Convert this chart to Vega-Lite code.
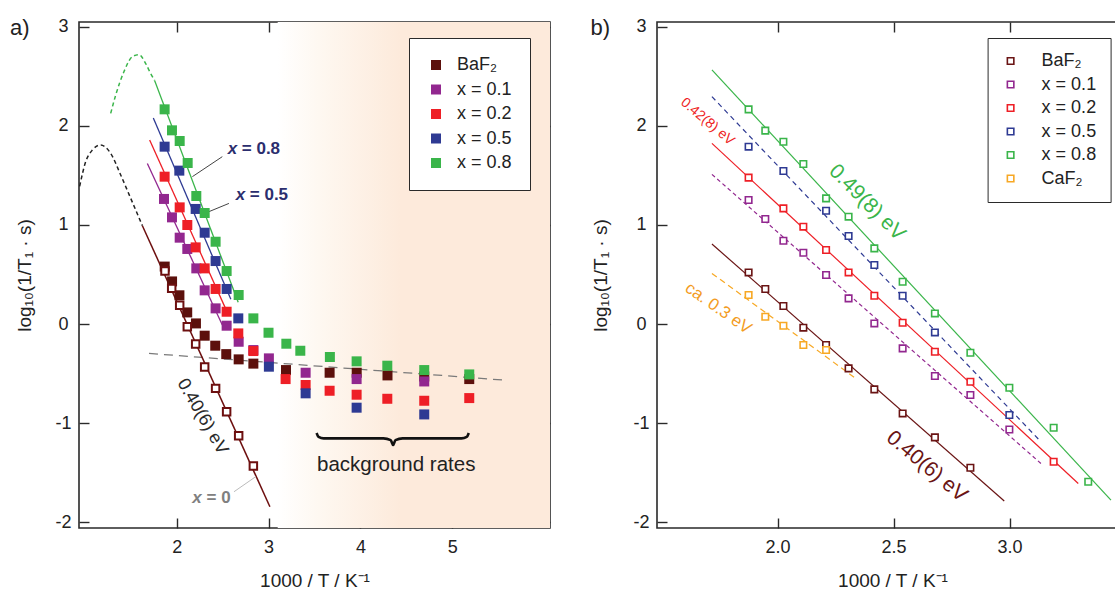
{
 "$schema": "https://vega.github.io/schema/vega-lite/v6.json",
 "padding": {"left": 9, "top": 15, "right": 0, "bottom": 0},
 "spacing": 37,
 "config": {
  "font": "Liberation Sans",
  "view": {"stroke": "#2a2a2a", "strokeWidth": 1.6},
  "axis": {"domain": false, "grid": false, "tickColor": "#2a2a2a", "tickSize": -10, "tickWidth": 1.4, "labelFontSize": 18, "labelColor": "#222222", "titleFontSize": 19, "titleFontWeight": "normal", "titleColor": "#222222"},
  "legend": {"strokeColor": "#2a2a2a", "fillColor": "#ffffff", "labelFontSize": 18, "labelColor": "#222222", "symbolType": "square"}
 },
 "resolve": {"scale": {"x": "independent", "y": "independent", "color": "independent", "stroke": "independent"}, "legend": {"color": "independent"}},
 "datasets": {
  "lp": [
   {"s": "BaF₂", "x": 1.87, "y": 0.58}, {"s": "BaF₂", "x": 1.95, "y": 0.43}, {"s": "BaF₂", "x": 2.03, "y": 0.29}, {"s": "BaF₂", "x": 2.115, "y": 0.117}, {"s": "BaF₂", "x": 2.21, "y": 0.006}, {"s": "BaF₂", "x": 2.305, "y": -0.118}, {"s": "BaF₂", "x": 2.42, "y": -0.219}, {"s": "BaF₂", "x": 2.54, "y": -0.304}, {"s": "BaF₂", "x": 2.675, "y": -0.357}, {"s": "BaF₂", "x": 2.835, "y": -0.4}, {"s": "BaF₂", "x": 3.19, "y": -0.465}, {"s": "BaF₂", "x": 3.665, "y": -0.492}, {"s": "BaF₂", "x": 3.96, "y": -0.492}, {"s": "BaF₂", "x": 4.295, "y": -0.519}, {"s": "BaF₂", "x": 4.695, "y": -0.53}, {"s": "BaF₂", "x": 5.185, "y": -0.556},
   {"s": "x = 0.1", "x": 1.862, "y": 1.263}, {"s": "x = 0.1", "x": 1.949, "y": 1.077}, {"s": "x = 0.1", "x": 2.033, "y": 0.872}, {"s": "x = 0.1", "x": 2.116, "y": 0.758}, {"s": "x = 0.1", "x": 2.214, "y": 0.562}, {"s": "x = 0.1", "x": 2.305, "y": 0.34}, {"s": "x = 0.1", "x": 2.424, "y": 0.158}, {"s": "x = 0.1", "x": 2.544, "y": -0.017}, {"s": "x = 0.1", "x": 2.675, "y": -0.179}, {"s": "x = 0.1", "x": 2.835, "y": -0.263}, {"s": "x = 0.1", "x": 3.004, "y": -0.347}, {"s": "x = 0.1", "x": 3.404, "y": -0.492}, {"s": "x = 0.1", "x": 3.959, "y": -0.556}, {"s": "x = 0.1", "x": 4.695, "y": -0.58},
   {"s": "x = 0.2", "x": 1.869, "y": 1.488}, {"s": "x = 0.2", "x": 2.033, "y": 1.178}, {"s": "x = 0.2", "x": 2.116, "y": 1.0}, {"s": "x = 0.2", "x": 2.207, "y": 0.774}, {"s": "x = 0.2", "x": 2.305, "y": 0.562}, {"s": "x = 0.2", "x": 2.424, "y": 0.354}, {"s": "x = 0.2", "x": 2.544, "y": 0.124}, {"s": "x = 0.2", "x": 2.671, "y": -0.095}, {"s": "x = 0.2", "x": 2.835, "y": -0.273}, {"s": "x = 0.2", "x": 3.186, "y": -0.556}, {"s": "x = 0.2", "x": 3.404, "y": -0.616}, {"s": "x = 0.2", "x": 3.665, "y": -0.674}, {"s": "x = 0.2", "x": 3.959, "y": -0.714}, {"s": "x = 0.2", "x": 4.293, "y": -0.755}, {"s": "x = 0.2", "x": 4.695, "y": -0.775}, {"s": "x = 0.2", "x": 5.185, "y": -0.748},
   {"s": "x = 0.5", "x": 1.869, "y": 1.791}, {"s": "x = 0.5", "x": 2.029, "y": 1.549}, {"s": "x = 0.5", "x": 2.207, "y": 1.162}, {"s": "x = 0.5", "x": 2.305, "y": 0.922}, {"s": "x = 0.5", "x": 2.424, "y": 0.636}, {"s": "x = 0.5", "x": 2.544, "y": 0.354}, {"s": "x = 0.5", "x": 2.671, "y": 0.057}, {"s": "x = 0.5", "x": 3.004, "y": -0.431}, {"s": "x = 0.5", "x": 3.404, "y": -0.7}, {"s": "x = 0.5", "x": 3.959, "y": -0.845}, {"s": "x = 0.5", "x": 4.695, "y": -0.913},
   {"s": "x = 0.8", "x": 1.869, "y": 2.168}, {"s": "x = 0.8", "x": 1.949, "y": 1.956}, {"s": "x = 0.8", "x": 2.033, "y": 1.848}, {"s": "x = 0.8", "x": 2.12, "y": 1.626}, {"s": "x = 0.8", "x": 2.214, "y": 1.293}, {"s": "x = 0.8", "x": 2.305, "y": 1.121}, {"s": "x = 0.8", "x": 2.424, "y": 0.831}, {"s": "x = 0.8", "x": 2.544, "y": 0.535}, {"s": "x = 0.8", "x": 2.675, "y": 0.293}, {"s": "x = 0.8", "x": 2.835, "y": 0.057}, {"s": "x = 0.8", "x": 3.0, "y": -0.088}, {"s": "x = 0.8", "x": 3.194, "y": -0.199}, {"s": "x = 0.8", "x": 3.346, "y": -0.27}, {"s": "x = 0.8", "x": 3.668, "y": -0.333}, {"s": "x = 0.8", "x": 3.959, "y": -0.377}, {"s": "x = 0.8", "x": 4.293, "y": -0.421}, {"s": "x = 0.8", "x": 4.695, "y": -0.465}, {"s": "x = 0.8", "x": 5.185, "y": -0.509}
  ],
  "lo": [
   {"x": 1.873, "y": 0.535}, {"x": 1.946, "y": 0.36}, {"x": 2.033, "y": 0.19}, {"x": 2.116, "y": -0.027}, {"x": 2.207, "y": -0.202}, {"x": 2.305, "y": -0.434}, {"x": 2.424, "y": -0.65}, {"x": 2.544, "y": -0.886}, {"x": 2.675, "y": -1.128}, {"x": 2.835, "y": -1.434}
  ],
  "lf": [
   {"s": "x = 0.1", "x": 1.681, "y": 1.622}, {"s": "x = 0.1", "x": 2.497, "y": -0.01},
   {"s": "x = 0.2", "x": 1.706, "y": 1.858}, {"s": "x = 0.2", "x": 2.55, "y": 0.12},
   {"s": "x = 0.5", "x": 1.746, "y": 2.08}, {"s": "x = 0.5", "x": 2.59, "y": 0.25},
   {"s": "x = 0.8", "x": 1.76, "y": 2.46}, {"s": "x = 0.8", "x": 2.67, "y": 0.22}
  ],
  "l0": [{"x": 1.627, "y": 0.993}, {"x": 3.015, "y": -1.845}],
  "lg": [{"x": 1.282, "y": 2.127}, {"x": 1.336, "y": 2.31}, {"x": 1.427, "y": 2.55}, {"x": 1.518, "y": 2.7}, {"x": 1.59, "y": 2.72}, {"x": 1.663, "y": 2.63}, {"x": 1.717, "y": 2.53}, {"x": 1.76, "y": 2.46}],
  "lk": [{"x": 0.944, "y": 1.39}, {"x": 1.01, "y": 1.64}, {"x": 1.083, "y": 1.757}, {"x": 1.173, "y": 1.808}, {"x": 1.282, "y": 1.723}, {"x": 1.391, "y": 1.505}, {"x": 1.5, "y": 1.269}, {"x": 1.627, "y": 0.993}],
  "lb": [{"x": 1.699, "y": -0.297}, {"x": 5.555, "y": -0.566}],
  "br": [{"x": 3.523, "y": -1.1}, {"x": 3.545, "y": -1.14}, {"x": 3.6, "y": -1.155}, {"x": 4.25, "y": -1.155}, {"x": 4.33, "y": -1.172}, {"x": 4.356, "y": -1.222}, {"x": 4.382, "y": -1.172}, {"x": 4.46, "y": -1.155}, {"x": 5.1, "y": -1.155}, {"x": 5.158, "y": -1.14}, {"x": 5.18, "y": -1.1}],
  "rp": [
   {"s": "BaF₂", "x": 1.875, "y": 0.521}, {"s": "BaF₂", "x": 1.947, "y": 0.354}, {"s": "BaF₂", "x": 2.025, "y": 0.182}, {"s": "BaF₂", "x": 2.111, "y": -0.037}, {"s": "BaF₂", "x": 2.209, "y": -0.212}, {"s": "BaF₂", "x": 2.306, "y": -0.448}, {"s": "BaF₂", "x": 2.417, "y": -0.66}, {"s": "BaF₂", "x": 2.539, "y": -0.903}, {"s": "BaF₂", "x": 2.678, "y": -1.145}, {"s": "BaF₂", "x": 2.831, "y": -1.452},
   {"s": "x = 0.1", "x": 1.875, "y": 1.252}, {"s": "x = 0.1", "x": 1.947, "y": 1.06}, {"s": "x = 0.1", "x": 2.025, "y": 0.841}, {"s": "x = 0.1", "x": 2.111, "y": 0.72}, {"s": "x = 0.1", "x": 2.209, "y": 0.495}, {"s": "x = 0.1", "x": 2.306, "y": 0.259}, {"s": "x = 0.1", "x": 2.417, "y": 0.006}, {"s": "x = 0.1", "x": 2.539, "y": -0.246}, {"s": "x = 0.1", "x": 2.678, "y": -0.525}, {"s": "x = 0.1", "x": 2.831, "y": -0.717}, {"s": "x = 0.1", "x": 2.999, "y": -1.065},
   {"s": "x = 0.2", "x": 1.875, "y": 1.478}, {"s": "x = 0.2", "x": 2.025, "y": 1.168}, {"s": "x = 0.2", "x": 2.111, "y": 0.983}, {"s": "x = 0.2", "x": 2.209, "y": 0.747}, {"s": "x = 0.2", "x": 2.306, "y": 0.521}, {"s": "x = 0.2", "x": 2.417, "y": 0.286}, {"s": "x = 0.2", "x": 2.539, "y": 0.013}, {"s": "x = 0.2", "x": 2.678, "y": -0.28}, {"s": "x = 0.2", "x": 2.831, "y": -0.583}, {"s": "x = 0.2", "x": 3.19, "y": -1.391},
   {"s": "x = 0.5", "x": 1.875, "y": 1.791}, {"s": "x = 0.5", "x": 2.025, "y": 1.545}, {"s": "x = 0.5", "x": 2.209, "y": 1.144}, {"s": "x = 0.5", "x": 2.306, "y": 0.889}, {"s": "x = 0.5", "x": 2.417, "y": 0.596}, {"s": "x = 0.5", "x": 2.539, "y": 0.286}, {"s": "x = 0.5", "x": 2.678, "y": -0.085}, {"s": "x = 0.5", "x": 2.999, "y": -0.919},
   {"s": "x = 0.8", "x": 1.875, "y": 2.168}, {"s": "x = 0.8", "x": 1.947, "y": 1.953}, {"s": "x = 0.8", "x": 2.025, "y": 1.841}, {"s": "x = 0.8", "x": 2.111, "y": 1.616}, {"s": "x = 0.8", "x": 2.209, "y": 1.269}, {"s": "x = 0.8", "x": 2.306, "y": 1.084}, {"s": "x = 0.8", "x": 2.417, "y": 0.764}, {"s": "x = 0.8", "x": 2.539, "y": 0.427}, {"s": "x = 0.8", "x": 2.678, "y": 0.107}, {"s": "x = 0.8", "x": 2.831, "y": -0.29}, {"s": "x = 0.8", "x": 2.999, "y": -0.643}, {"s": "x = 0.8", "x": 3.19, "y": -1.047}, {"s": "x = 0.8", "x": 3.339, "y": -1.593},
   {"s": "CaF₂", "x": 1.875, "y": 0.293}, {"s": "CaF₂", "x": 1.947, "y": 0.074}, {"s": "CaF₂", "x": 2.025, "y": -0.017}, {"s": "CaF₂", "x": 2.111, "y": -0.212}, {"s": "CaF₂", "x": 2.209, "y": -0.263}
  ],
  "rf": [
   {"s": "BaF₂", "x": 1.717, "y": 0.808}, {"s": "BaF₂", "x": 2.977, "y": -1.788},
   {"s": "x = 0.1", "x": 1.717, "y": 1.511}, {"s": "x = 0.1", "x": 3.135, "y": -1.408},
   {"s": "x = 0.2", "x": 1.717, "y": 1.824}, {"s": "x = 0.2", "x": 3.296, "y": -1.61},
   {"s": "x = 0.5", "x": 1.717, "y": 2.296}, {"s": "x = 0.5", "x": 3.135, "y": -1.189},
   {"s": "x = 0.8", "x": 1.717, "y": 2.566}, {"s": "x = 0.8", "x": 3.437, "y": -1.778},
   {"s": "CaF₂", "x": 1.717, "y": 0.511}, {"s": "CaF₂", "x": 2.34, "y": -0.555}
  ]
 },
 "hconcat": [
  {
   "width": 471, "height": 506,
   "resolve": {"axis": {"x": "independent", "y": "independent"}},
   "layer": [
    {"data": {"values": [{}]}, "mark": {"type": "rect", "fill": {"gradient": "linear", "x1": 0, "y1": 0, "x2": 1, "y2": 0, "stops": [{"offset": 0, "color": "#ffffff"}, {"offset": 0.15, "color": "#fef8f1"}, {"offset": 0.45, "color": "#fdeadb"}, {"offset": 1, "color": "#fdeadb"}]}},
     "encoding": {"x": {"datum": 3.1, "type": "quantitative", "scale": {"domain": [0.937, 6.064], "nice": false, "zero": false}, "axis": null}, "x2": {"datum": 6.064}, "y": {"datum": 3.05, "type": "quantitative", "scale": {"domain": [-2.06, 3.05], "nice": false, "zero": false}, "axis": null}, "y2": {"datum": -2.06}}},
    {"data": {"name": "lb"}, "mark": {"type": "line", "color": "#7a7a7a", "strokeDash": [9, 6], "strokeWidth": 1.3},
     "encoding": {"x": {"field": "x", "type": "quantitative", "axis": {"orient": "top", "labels": false, "title": null, "values": [2, 3, 4, 5]}}, "y": {"field": "y", "type": "quantitative", "axis": {"orient": "right", "labels": false, "title": null, "values": [-2, -1, 0, 1, 2, 3]}}}},
    {"data": {"name": "lg"}, "mark": {"type": "line", "color": "#3ab54a", "strokeDash": [4, 3], "strokeWidth": 1.5, "interpolate": "monotone"},
     "encoding": {"x": {"field": "x", "type": "quantitative", "axis": null}, "y": {"field": "y", "type": "quantitative", "axis": null}}},
    {"data": {"name": "lk"}, "mark": {"type": "line", "color": "#222222", "strokeDash": [4, 3], "strokeWidth": 1.5, "interpolate": "monotone"},
     "encoding": {"x": {"field": "x", "type": "quantitative", "axis": null}, "y": {"field": "y", "type": "quantitative", "axis": null}}},
    {"data": {"name": "lf"}, "mark": {"type": "line", "strokeWidth": 1.3},
     "encoding": {"x": {"field": "x", "type": "quantitative", "axis": null}, "y": {"field": "y", "type": "quantitative", "axis": null}, "stroke": {"field": "s", "type": "nominal", "scale": {"domain": ["x = 0.1", "x = 0.2", "x = 0.5", "x = 0.8"], "range": ["#92278f", "#ee1f26", "#2e3a93", "#3ab54a"]}, "legend": null}}},
    {"data": {"name": "l0"}, "mark": {"type": "line", "color": "#6d0f0f", "strokeWidth": 1.5},
     "encoding": {"x": {"field": "x", "type": "quantitative", "axis": null}, "y": {"field": "y", "type": "quantitative", "axis": null}}},
    {"data": {"values": [{}]}, "mark": {"type": "rule", "color": "#444444", "strokeWidth": 1},
     "encoding": {"x": {"datum": 2.171, "type": "quantitative", "axis": null}, "y": {"datum": 1.488, "type": "quantitative", "axis": null}, "x2": {"datum": 2.497}, "y2": {"datum": 1.69}}},
    {"data": {"values": [{}]}, "mark": {"type": "rule", "color": "#444444", "strokeWidth": 1},
     "encoding": {"x": {"datum": 2.261, "type": "quantitative", "axis": null}, "y": {"datum": 1.1, "type": "quantitative", "axis": null}, "x2": {"datum": 2.569}, "y2": {"datum": 1.218}}},
    {"data": {"values": [{}]}, "mark": {"type": "rule", "color": "#bbbbbb", "strokeWidth": 1},
     "encoding": {"x": {"datum": 2.624, "type": "quantitative", "axis": null}, "y": {"datum": -1.694, "type": "quantitative", "axis": null}, "x2": {"datum": 2.86}, "y2": {"datum": -1.542}}},
    {"data": {"name": "br"}, "mark": {"type": "line", "color": "#111111", "strokeWidth": 2.6, "interpolate": "monotone"},
     "encoding": {"x": {"field": "x", "type": "quantitative", "axis": null}, "y": {"field": "y", "type": "quantitative", "axis": null}}},
    {"data": {"name": "lp"}, "mark": {"type": "square", "size": 100, "filled": true, "opacity": 1},
     "encoding": {
      "x": {"field": "x", "type": "quantitative", "scale": {"domain": [0.937, 6.064], "nice": false, "zero": false}, "axis": {"values": [2, 3, 4, 5], "format": "d", "title": "1000 / T / K⁻¹", "labelPadding": 20, "titlePadding": 13, "minExtent": 30, "maxExtent": 30}},
      "y": {"field": "y", "type": "quantitative", "scale": {"domain": [-2.06, 3.05], "nice": false, "zero": false}, "axis": {"values": [-2, -1, 0, 1, 2, 3], "labelExpr": "datum.value < 0 ? '-' + (-datum.value) : '' + datum.value", "labelAlign": "center", "labelPadding": 26, "title": "log₁₀(1/T₁ · s)", "titlePadding": 5, "minExtent": 40, "maxExtent": 40}},
      "color": {"field": "s", "type": "nominal", "scale": {"domain": ["BaF₂", "x = 0.1", "x = 0.2", "x = 0.5", "x = 0.8"], "range": ["#5c100c", "#92278f", "#ee1f26", "#2e3a93", "#3ab54a"]}, "legend": {"title": null, "orient": "none", "legendX": 330, "legendY": 16, "padding": 18, "rowPadding": 6.5, "symbolSize": 100, "labelOffset": 12}}
     }},
    {"data": {"name": "lo"}, "mark": {"type": "square", "size": 56, "filled": false, "fill": "#ffffff", "stroke": "#6d0f0f", "strokeWidth": 2, "opacity": 1},
     "encoding": {"x": {"field": "x", "type": "quantitative", "axis": null}, "y": {"field": "y", "type": "quantitative", "axis": null}}},
    {"data": {"values": [{}]}, "mark": {"type": "text", "text": "x", "fontSize": 17, "fontWeight": "bold", "fontStyle": "italic", "color": "#2b2e6e", "align": "left", "baseline": "middle"},
     "encoding": {"x": {"datum": 2.555, "type": "quantitative", "axis": null}, "y": {"datum": 1.771, "type": "quantitative", "axis": null}}},
    {"data": {"values": [{}]}, "mark": {"type": "text", "text": "= 0.8", "fontSize": 17, "fontWeight": "bold", "color": "#2b2e6e", "align": "left", "baseline": "middle"},
     "encoding": {"x": {"datum": 2.709, "type": "quantitative", "axis": null}, "y": {"datum": 1.771, "type": "quantitative", "axis": null}}},
    {"data": {"values": [{}]}, "mark": {"type": "text", "text": "x", "fontSize": 17, "fontWeight": "bold", "fontStyle": "italic", "color": "#2b2e6e", "align": "left", "baseline": "middle"},
     "encoding": {"x": {"datum": 2.642, "type": "quantitative", "axis": null}, "y": {"datum": 1.303, "type": "quantitative", "axis": null}}},
    {"data": {"values": [{}]}, "mark": {"type": "text", "text": "= 0.5", "fontSize": 17, "fontWeight": "bold", "color": "#2b2e6e", "align": "left", "baseline": "middle"},
     "encoding": {"x": {"datum": 2.796, "type": "quantitative", "axis": null}, "y": {"datum": 1.303, "type": "quantitative", "axis": null}}},
    {"data": {"values": [{}]}, "mark": {"type": "text", "text": "x", "fontSize": 17, "fontWeight": "bold", "fontStyle": "italic", "color": "#808080", "align": "left", "baseline": "middle"},
     "encoding": {"x": {"datum": 2.171, "type": "quantitative", "axis": null}, "y": {"datum": -1.762, "type": "quantitative", "axis": null}}},
    {"data": {"values": [{}]}, "mark": {"type": "text", "text": "= 0", "fontSize": 17, "fontWeight": "bold", "color": "#808080", "align": "left", "baseline": "middle"},
     "encoding": {"x": {"datum": 2.325, "type": "quantitative", "axis": null}, "y": {"datum": -1.762, "type": "quantitative", "axis": null}}},
    {"data": {"values": [{}]}, "mark": {"type": "text", "text": "0.40(6) eV", "fontSize": 18, "angle": 60, "color": "#2a2a2a", "align": "center", "baseline": "middle"},
     "encoding": {"x": {"datum": 2.28, "type": "quantitative", "axis": null}, "y": {"datum": -0.936, "type": "quantitative", "axis": null}}},
    {"data": {"values": [{}]}, "mark": {"type": "text", "text": "background rates", "fontSize": 20.5, "color": "#222222", "align": "center", "baseline": "middle"},
     "encoding": {"x": {"datum": 4.39, "type": "quantitative", "axis": null}, "y": {"datum": -1.424, "type": "quantitative", "axis": null}}},
    {"data": {"values": [{}]}, "mark": {"type": "text", "text": "a)", "fontSize": 22, "color": "#222222", "align": "center", "baseline": "middle"},
     "encoding": {"x": {"datum": 0.292, "type": "quantitative", "axis": null}, "y": {"datum": 2.993, "type": "quantitative", "axis": null}}}
   ]
  },
  {
   "width": 471, "height": 506,
   "resolve": {"axis": {"x": "independent", "y": "independent"}},
   "layer": [
    {"data": {"name": "rf"}, "transform": [{"filter": "datum.s === 'x = 0.8'"}], "mark": {"type": "line", "strokeWidth": 1.2, "color": "#3ab54a"},
     "encoding": {"x": {"field": "x", "type": "quantitative", "scale": {"domain": [1.4802, 3.5104], "nice": false, "zero": false}, "axis": {"orient": "top", "labels": false, "title": null, "values": [2, 2.5, 3, 3.5]}}, "y": {"field": "y", "type": "quantitative", "scale": {"domain": [-2.06, 3.05], "nice": false, "zero": false}, "axis": {"orient": "right", "labels": false, "title": null, "values": [-2, -1, 0, 1, 2, 3]}}}},
    {"data": {"name": "rf"}, "transform": [{"filter": "datum.s === 'x = 0.2'"}], "mark": {"type": "line", "strokeWidth": 1.2, "color": "#ee1f26"},
     "encoding": {"x": {"field": "x", "type": "quantitative", "axis": null}, "y": {"field": "y", "type": "quantitative", "axis": null}}},
    {"data": {"name": "rf"}, "transform": [{"filter": "datum.s === 'BaF₂'"}], "mark": {"type": "line", "strokeWidth": 1.2, "color": "#6a1414"},
     "encoding": {"x": {"field": "x", "type": "quantitative", "axis": null}, "y": {"field": "y", "type": "quantitative", "axis": null}}},
    {"data": {"name": "rf"}, "transform": [{"filter": "datum.s === 'x = 0.5'"}], "mark": {"type": "line", "strokeWidth": 1.2, "strokeDash": [5, 4], "color": "#2e3a93"},
     "encoding": {"x": {"field": "x", "type": "quantitative", "axis": null}, "y": {"field": "y", "type": "quantitative", "axis": null}}},
    {"data": {"name": "rf"}, "transform": [{"filter": "datum.s === 'x = 0.1'"}], "mark": {"type": "line", "strokeWidth": 1.2, "strokeDash": [4, 3], "color": "#92278f"},
     "encoding": {"x": {"field": "x", "type": "quantitative", "axis": null}, "y": {"field": "y", "type": "quantitative", "axis": null}}},
    {"data": {"name": "rf"}, "transform": [{"filter": "datum.s === 'CaF₂'"}], "mark": {"type": "line", "strokeWidth": 1.2, "strokeDash": [6, 4], "color": "#f7a824"},
     "encoding": {"x": {"field": "x", "type": "quantitative", "axis": null}, "y": {"field": "y", "type": "quantitative", "axis": null}}},
    {"data": {"name": "rp"}, "mark": {"type": "square", "size": 42, "filled": false, "fill": "#ffffff", "strokeWidth": 1.6, "opacity": 1},
     "encoding": {
      "x": {"field": "x", "type": "quantitative", "scale": {"domain": [1.4802, 3.5104], "nice": false, "zero": false}, "axis": {"values": [2, 2.5, 3], "format": ".1f", "title": "1000 / T / K⁻¹", "labelPadding": 20, "titlePadding": 13, "minExtent": 30, "maxExtent": 30}},
      "y": {"field": "y", "type": "quantitative", "scale": {"domain": [-2.06, 3.05], "nice": false, "zero": false}, "axis": {"values": [-2, -1, 0, 1, 2, 3], "labelExpr": "datum.value < 0 ? '-' + (-datum.value) : '' + datum.value", "labelAlign": "center", "labelPadding": 26, "title": "log₁₀(1/T₁ · s)", "titlePadding": 5, "minExtent": 42, "maxExtent": 42}},
      "color": {"field": "s", "type": "nominal", "scale": {"domain": ["BaF₂", "x = 0.1", "x = 0.2", "x = 0.5", "x = 0.8", "CaF₂"], "range": ["#6a1414", "#92278f", "#ee1f26", "#2e3a93", "#3ab54a", "#f7a824"]}, "legend": {"title": null, "orient": "none", "legendX": 330.6, "legendY": 16, "padding": 14, "rowPadding": 5.5, "symbolSize": 42, "symbolStrokeWidth": 1.6, "labelOffset": 22}}
     }},
    {"data": {"values": [{}]}, "mark": {"type": "text", "text": "0.49(8) eV", "fontSize": 21, "angle": 45, "color": "#3ab54a", "align": "center", "baseline": "middle"},
     "encoding": {"x": {"datum": 2.385, "type": "quantitative", "axis": null}, "y": {"datum": 1.225, "type": "quantitative", "axis": null}}},
    {"data": {"values": [{}]}, "mark": {"type": "text", "text": "0.42(8) eV", "fontSize": 14, "angle": 40, "color": "#ee1f26", "align": "center", "baseline": "middle"},
     "encoding": {"x": {"datum": 1.698, "type": "quantitative", "axis": null}, "y": {"datum": 2.043, "type": "quantitative", "axis": null}}},
    {"data": {"values": [{}]}, "mark": {"type": "text", "text": "0.40(6) eV", "fontSize": 21, "angle": 40, "color": "#6a1414", "align": "center", "baseline": "middle"},
     "encoding": {"x": {"datum": 2.643, "type": "quantitative", "axis": null}, "y": {"datum": -1.441, "type": "quantitative", "axis": null}}},
    {"data": {"values": [{}]}, "mark": {"type": "text", "text": "ca. 0.3 eV", "fontSize": 17, "angle": 35, "color": "#f39c1f", "align": "center", "baseline": "middle"},
     "encoding": {"x": {"datum": 1.744, "type": "quantitative", "axis": null}, "y": {"datum": 0.158, "type": "quantitative", "axis": null}}},
    {"data": {"values": [{}]}, "mark": {"type": "text", "text": "b)", "fontSize": 22, "color": "#222222", "align": "center", "baseline": "middle"},
     "encoding": {"x": {"datum": 1.236, "type": "quantitative", "axis": null}, "y": {"datum": 2.993, "type": "quantitative", "axis": null}}}
   ]
  }
 ]
}
